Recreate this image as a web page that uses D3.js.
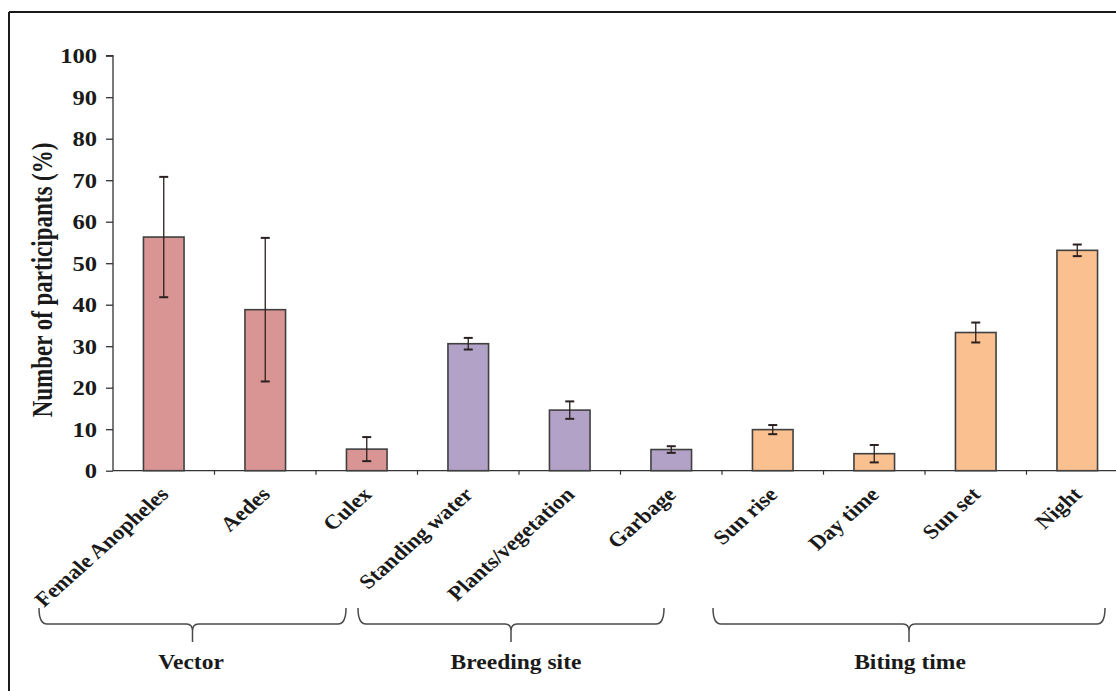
<!DOCTYPE html>
<html>
<head>
<meta charset="utf-8">
<script src="https://cdn.jsdelivr.net/npm/d3@7"></script>
<style>
  html, body { margin: 0; padding: 0; background: #fff; }
  svg { display: block; }
  text { font-family: "Liberation Serif", "Times New Roman", serif; font-weight: bold; fill: #1a1a1a; }
</style>
</head>
<body>
<svg id="chart" width="1116" height="691"></svg>
<script>
// ---- data ----
const categories = ["Female Anopheles", "Aedes", "Culex", "Standing water", "Plants/vegetation", "Garbage", "Sun rise", "Day time", "Sun set", "Night"];
const values = [56.3, 38.8, 5.2, 30.6, 14.6, 5.1, 9.9, 4.1, 33.3, 53.1];
const errors = [14.5, 17.3, 2.9, 1.4, 2.1, 0.8, 1.1, 2.1, 2.4, 1.4];
const groupOf = ["Vector", "Vector", "Vector", "Breeding site", "Breeding site", "Breeding site", "Biting time", "Biting time", "Biting time", "Biting time"];
const groups = ["Vector", "Breeding site", "Biting time"];
const groupColors = ["#d99594", "#b3a2c7", "#fac090"];
const yTicks = [0, 10, 20, 30, 40, 50, 60, 70, 80, 90, 100];
const yTitle = "Number of participants (%)";

// ---- layout ----
const W = 1116, H = 691;
const x0 = 113, step = 101.5;
const y0 = 470.7, yTop = 55.7;
const stretch = 1.2;
// brace extents (pixel offsets relative to the group's band edges)
const braceOffsets = [[-74, -71.5], [-59.5, -58], [-9, -23]];
const groupLabelShift = [-1.5, 5, 1];

const svg = d3.select("#chart");

// frame
svg.append("line").attr("x1", 9).attr("x2", W).attr("y1", 12).attr("y2", 12).attr("stroke", "#1a1a1a").attr("stroke-width", 2);
svg.append("line").attr("x1", 9).attr("x2", 9).attr("y1", 12).attr("y2", H).attr("stroke", "#1a1a1a").attr("stroke-width", 2);

const x = d3.scaleBand().domain(categories).range([x0, x0 + step * categories.length]).padding(0);
const y = d3.scaleLinear().domain([0, 100]).range([y0, yTop]);
const color = d3.scaleOrdinal().domain(groups).range(groupColors);
const barW = x.bandwidth() * 0.4;

// y axis
const yAxis = svg.append("g").attr("transform", `translate(${x0},0)`)
  .call(d3.axisLeft(y).tickValues(yTicks).tickSize(7).tickPadding(0).tickFormat(d3.format("d")));
yAxis.select(".domain").attr("stroke", "#333").attr("stroke-width", 1.3).attr("d", `M-7,${yTop}H0V${y0}`);
yAxis.selectAll(".tick line").attr("stroke", "#333").attr("stroke-width", 1.3);
yAxis.selectAll(".tick text").remove();
yAxis.selectAll(".tick").append("text")
  .attr("text-anchor", "end")
  .attr("font-size", 20.5)
  .attr("transform", `translate(-16,7) scale(${stretch},1)`)
  .attr("fill", "#1a1a1a")
  .text(d => d);

// x axis
const boundaries = categories.map(c => x(c)).concat([x0 + step * categories.length]);
svg.append("line").attr("x1", x0).attr("x2", W).attr("y1", y0).attr("y2", y0).attr("stroke", "#333").attr("stroke-width", 1.3);
svg.append("g").selectAll("line").data(boundaries.slice(1)).join("line")
  .attr("x1", d => d).attr("x2", d => d).attr("y1", y0).attr("y2", y0 + 4)
  .attr("stroke", "#333").attr("stroke-width", 1.2);

// bars
svg.append("g").selectAll("rect").data(categories).join("rect")
  .attr("x", c => x(c) + (x.bandwidth() - barW) / 2)
  .attr("width", barW)
  .attr("y", (c, i) => y(values[i]))
  .attr("height", (c, i) => y0 - y(values[i]))
  .attr("fill", (c, i) => color(groupOf[i]))
  .attr("stroke", "#404040").attr("stroke-width", 1.6);

// error bars
const eb = svg.append("g").attr("stroke", "#2a2020").attr("stroke-width", 1.3);
categories.forEach((c, i) => {
  const cx = x(c) + x.bandwidth() / 2;
  const hi = y(values[i] + errors[i]), lo = y(values[i] - errors[i]);
  eb.append("line").attr("x1", cx).attr("x2", cx).attr("y1", hi).attr("y2", lo);
  eb.append("line").attr("x1", cx - 4.5).attr("x2", cx + 4.5).attr("y1", hi).attr("y2", hi).attr("stroke-width", 2);
  eb.append("line").attr("x1", cx - 4.5).attr("x2", cx + 4.5).attr("y1", lo).attr("y2", lo).attr("stroke-width", 2);
});

// category labels
svg.append("g").selectAll("text").data(categories).join("text")
  .attr("text-anchor", "end")
  .attr("font-size", 20.5)
  .attr("transform", c => `translate(${x(c) + x.bandwidth() / 2 + 6},${y0 + 25}) scale(1.12,1) rotate(-45)`)
  .text(c => c);

// y title
svg.append("text")
  .attr("text-anchor", "middle")
  .attr("font-size", 23)
  .attr("transform", `translate(52,280) scale(1.25,1) rotate(-90)`)
  .text(yTitle);

// braces and group labels
const braceTop = 608, braceMid = 624, braceTip = 642;
groups.forEach((g, gi) => {
  const members = categories.filter((c, i) => groupOf[i] === g);
  const left = x(members[0]) + braceOffsets[gi][0];
  const right = x(members[members.length - 1]) + x.bandwidth() + braceOffsets[gi][1];
  const cx = (left + right) / 2;
  const p = d3.path();
  p.moveTo(left, braceTop);
  p.quadraticCurveTo(left, braceMid, left + 8, braceMid);
  p.lineTo(cx - 6, braceMid);
  p.quadraticCurveTo(cx, braceMid, cx, braceMid + 7);
  p.lineTo(cx, braceTip);
  p.moveTo(cx, braceMid + 7);
  p.quadraticCurveTo(cx, braceMid, cx + 6, braceMid);
  p.lineTo(right - 8, braceMid);
  p.quadraticCurveTo(right, braceMid, right, braceTop);
  svg.append("path").attr("d", p.toString()).attr("fill", "none").attr("stroke", "#4a4a4a").attr("stroke-width", 1.5);
  svg.append("text")
    .attr("text-anchor", "middle")
    .attr("font-size", 21)
    .attr("transform", `translate(${cx + groupLabelShift[gi]},669) scale(1.12,1)`)
    .text(g);
});
</script>
</body>
</html>
